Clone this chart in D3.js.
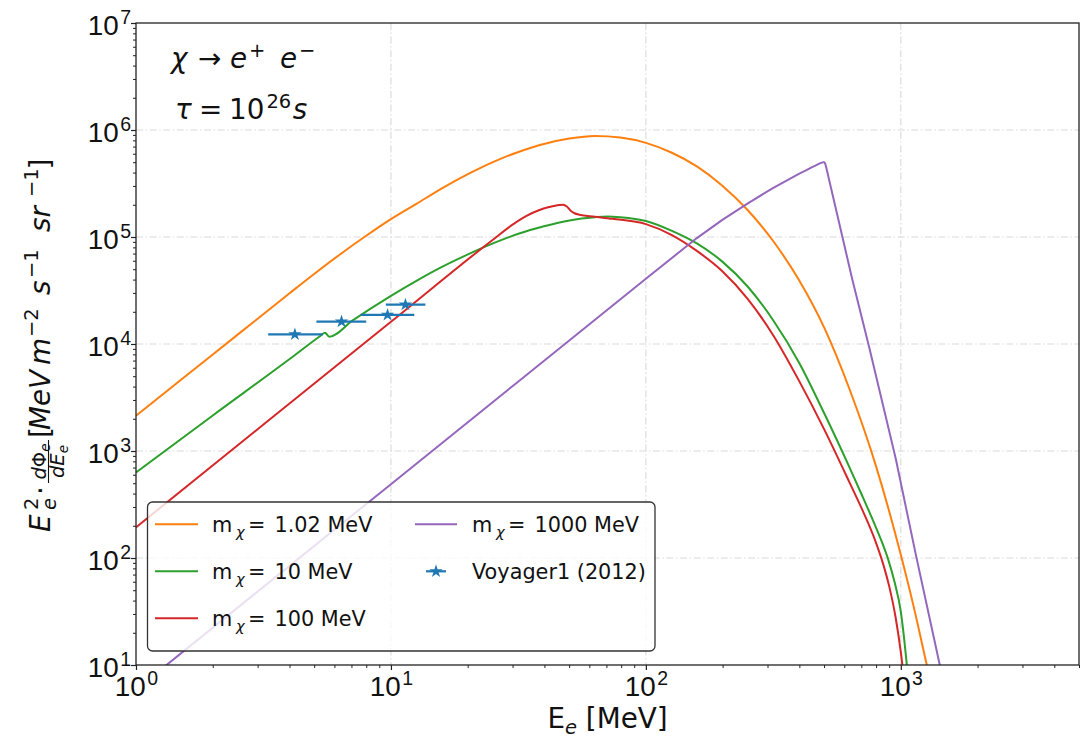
<!DOCTYPE html>
<html><head><meta charset="utf-8">
<script src="https://cdn.jsdelivr.net/npm/d3@7"></script>
<style>
body{margin:0;background:#fff;}
svg{display:block;font-family:"DejaVu Sans",sans-serif;}
text{white-space:pre;fill:#111;}
</style></head><body>
<svg id="chart" width="1081" height="743"></svg>
<script>
// ---------------- data ----------------
const seriesLabels = ["1.02 MeV", "10 MeV", "100 MeV", "1000 MeV"];
const seriesColors = ["#ff7f0e", "#2ca02c", "#d62728", "#9467bd"];

const energy_m1 = [1, 1.585, 2.512, 3.981, 5.012, 6.310, 7.943, 10, 12.59, 15.85, 19.95, 25.12, 31.62, 39.81, 50.12, 63.10, 79.43, 100, 125.9, 158.5, 199.5, 251.2, 316.2, 398.1, 501.2, 631.0, 794.3, 1000, 1122, 1259, 1413];
const flux_m1   = [2138, 5129, 12300, 29510, 45390, 68710, 101600, 146900, 204200, 285100, 384600, 501200, 623700, 741300, 831800, 879000, 851100, 758600, 616600, 457100, 302000, 177800, 91200, 39810, 14130, 3715, 758.6, 107.2, 35.5, 10.5, 3.16];

const energy_m10 = [1, 1.995, 3.981, 5.248, 5.508, 5.728, 7.079, 10, 12.59, 15.85, 19.95, 25.12, 31.62, 39.81, 50.12, 63.10, 70.79, 79.43, 100, 125.9, 158.5, 199.5, 251.2, 316.2, 398.1, 501.2, 631.0, 707.9, 794.3, 841.4, 891.3, 944.1, 1000, 1028, 1052, 1084];
const flux_m10   = [631, 2138, 7161, 11750, 12760, 11700, 16600, 28180, 38900, 52480, 68390, 87100, 107200, 125900, 142900, 153100, 155600, 153100, 141300, 114800, 87100, 58880, 34280, 16600, 6761, 2239, 691.8, 375.8, 199.5, 142.9, 97.7, 60.3, 31.6, 18.6, 11.0, 5.01];

const energy_m100 = [1, 3.162, 10, 25.12, 30.2, 33.88, 38.02, 41.69, 45.71, 47.32, 48.98, 50.70, 52.48, 54.83, 63.10, 73.96, 100, 125.9, 158.5, 199.5, 251.2, 316.2, 398.1, 501.2, 631.0, 707.9, 794.3, 851.1, 901.6, 955.0, 1000, 1035, 1072];
const flux_m100   = [193.6, 1766, 16110, 94410, 131800, 156700, 177800, 190500, 199500, 200400, 192800, 175800, 166700, 161400, 154900, 147900, 131800, 104700, 74130, 47860, 26300, 12020, 4571, 1585, 501.2, 278.6, 144.5, 89.1, 53.7, 27.5, 13.2, 6.61, 3.16];

const energy_m1000 = [1, 3.162, 10, 31.62, 100, 158.5, 199.5, 251.2, 316.2, 398.1, 426.6, 446.7, 462.4, 478.6, 489.8, 498.9, 504.7, 510.5, 645.7, 751.6, 955.0, 1148, 1422, 1585];
const flux_m1000   = [5.89, 53.7, 489.8, 4467, 40740, 97720, 144500, 206500, 288400, 389000, 421700, 446700, 464500, 484200, 495500, 501200, 489800, 441600, 39810, 9333, 851.1, 104.7, 10, 3.02];

const voyagerLabel = "Voyager1 (2012)";
const voyagerE     = [4.2, 6.4, 9.7, 11.4];
const voyagerFlux  = [12300, 16200, 18700, 23300];
const voyagerElow  = [3.3, 5.1, 7.6, 9.55];
const voyagerEhigh = [5.4, 8.0, 12.35, 13.65];

const xTickValues = [1, 10, 100, 1000];
const xTickExp    = ["0", "1", "2", "3"];
const yTickValues = [1e1, 1e2, 1e3, 1e4, 1e5, 1e6, 1e7];
const yTickExp    = ["1", "2", "3", "4", "5", "6", "7"];
const xMinorTicks = [2,3,4,5,6,7,8,9,20,30,40,50,60,70,80,90,200,300,400,500,600,700,800,900,2000,3000,4000,5000];
const yMinorTicks = [20,30,40,50,60,70,80,90,200,300,400,500,600,700,800,900,2e3,3e3,4e3,5e3,6e3,7e3,8e3,9e3,2e4,3e4,4e4,5e4,6e4,7e4,8e4,9e4,2e5,3e5,4e5,5e5,6e5,7e5,8e5,9e5,2e6,3e6,4e6,5e6,6e6,7e6,8e6,9e6];

// ---------------- layout ----------------
const svg = d3.select("#chart");
const L = 136, R = 1079, T = 23, B = 665;
const x = d3.scaleLog().domain([1, 5000]).range([L, R]);
const y = d3.scaleLog().domain([10, 1e7]).range([B, T]);
const FS = 27.8, FSS = 19.5, LFS = 20.8;

// grid
const grid = svg.append("g").attr("stroke", "#d9d9d9").attr("stroke-width", 1.1).attr("stroke-dasharray", "7,2.6,1.4,2.6");
grid.selectAll(".gx").data(xTickValues.slice(1)).join("line")
  .attr("x1", d => x(d)).attr("x2", d => x(d)).attr("y1", T).attr("y2", B);
grid.selectAll(".gy").data(yTickValues.slice(1, -1)).join("line")
  .attr("y1", d => y(d)).attr("y2", d => y(d)).attr("x1", L).attr("x2", R);

// clip
svg.append("clipPath").attr("id", "plotclip").append("rect")
  .attr("x", L).attr("y", T).attr("width", R - L).attr("height", B - T);

// curves
const series = [
  {E: energy_m1, F: flux_m1, curve: d3.curveMonotoneX},
  {E: energy_m10, F: flux_m10, curve: d3.curveMonotoneX},
  {E: energy_m100, F: flux_m100, curve: d3.curveMonotoneX},
  {E: energy_m1000, F: flux_m1000, curve: d3.curveLinear}
];
const curves = svg.append("g").attr("clip-path", "url(#plotclip)");
series.forEach((s, i) => {
  const line = d3.line().x(d => x(d[0])).y(d => y(d[1])).curve(s.curve);
  curves.append("path")
    .attr("d", line(s.E.map((e, k) => [e, s.F[k]])))
    .attr("fill", "none").attr("stroke", seriesColors[i]).attr("stroke-width", 2)
    .attr("stroke-linejoin", "round");
});

// voyager
const vc = "#1f77b4";
const vg = svg.append("g");
vg.selectAll("line").data(voyagerE).join("line")
  .attr("x1", (d, i) => x(voyagerElow[i])).attr("x2", (d, i) => x(voyagerEhigh[i]))
  .attr("y1", (d, i) => y(voyagerFlux[i])).attr("y2", (d, i) => y(voyagerFlux[i]))
  .attr("stroke", vc).attr("stroke-width", 2.2);
const star = d3.symbol().type(d3.symbolStar).size(55);
vg.selectAll("path").data(voyagerE).join("path")
  .attr("d", star)
  .attr("transform", (d, i) => `translate(${x(d)},${y(voyagerFlux[i])})`)
  .attr("fill", vc);

// spines
svg.append("rect").attr("x", L).attr("y", T).attr("width", R - L).attr("height", B - T)
  .attr("fill", "none").attr("stroke", "#222").attr("stroke-width", 1.3);

// axes
const xa = svg.append("g").attr("transform", `translate(0,${B})`).attr("color", "#222")
  .call(d3.axisBottom(x).tickValues(xTickValues).tickSize(5).tickFormat(""));
xa.select(".domain").remove();
xa.selectAll(".tick line").attr("stroke-width", 1.2);
const xam = svg.append("g").attr("transform", `translate(0,${B})`).attr("color", "#222")
  .call(d3.axisBottom(x).tickValues(xMinorTicks).tickSize(3).tickFormat(""));
xam.select(".domain").remove();
xa.selectAll(".tick").each(function(d, i) {
  const t = d3.select(this).append("text").attr("y", 31).attr("text-anchor", "middle")
    .attr("font-size", FS).attr("fill", "#111");
  t.append("tspan").text("10");
  t.append("tspan").attr("font-size", FSS).attr("dy", -11).attr("dx", 1.5).text(xTickExp[i]);
});

const ya = svg.append("g").attr("transform", `translate(${L},0)`).attr("color", "#222")
  .call(d3.axisLeft(y).tickValues(yTickValues).tickSize(5).tickFormat(""));
ya.select(".domain").remove();
ya.selectAll(".tick line").attr("stroke-width", 1.2);
const yam = svg.append("g").attr("transform", `translate(${L},0)`).attr("color", "#222")
  .call(d3.axisLeft(y).tickValues(yMinorTicks).tickSize(3).tickFormat(""));
yam.select(".domain").remove();
ya.selectAll(".tick").each(function(d, i) {
  const t = d3.select(this).append("text").attr("x", -5).attr("y", 11).attr("text-anchor", "end")
    .attr("font-size", FS).attr("fill", "#111");
  t.append("tspan").text("10");
  t.append("tspan").attr("font-size", FSS).attr("dy", -11).attr("dx", 1.5).text(yTickExp[i]);
});

// x label
const xl = svg.append("text").attr("x", (L + R) / 2).attr("y", 728).attr("text-anchor", "middle").attr("font-size", FS);
xl.append("tspan").text("E");
xl.append("tspan").attr("font-size", FSS).attr("font-style", "italic").attr("dy", 6).text("e");
xl.append("tspan").attr("dy", -6).text(" [MeV]");

// y label (rotated group)
const yl = svg.append("g").attr("transform", "translate(50,344) rotate(-90)");
function piece(g, str, u, v, size, italic, anchor) {
  return g.append("text").attr("x", u).attr("y", v).attr("font-size", size)
    .attr("font-style", italic ? "italic" : "normal").attr("text-anchor", anchor || "start").text(str);
}
piece(yl, "E", -188, 0, FS, true);
piece(yl, "e", -166, 6, FSS, true);
piece(yl, "2", -166, -12, FSS, false);
piece(yl, "\u00b7", -151, 0, FS, false);
const num = yl.append("text").attr("x", -117.5).attr("y", -4.5).attr("text-anchor", "middle").attr("font-size", FSS);
num.append("tspan").attr("font-style", "italic").text("d");
num.append("tspan").text("\u03a6");
num.append("tspan").attr("font-style", "italic").attr("font-size", 13.6).attr("dy", 4).text("e");
yl.append("line").attr("x1", -139).attr("x2", -96).attr("y1", -1.5).attr("y2", -1.5).attr("stroke", "#111").attr("stroke-width", 1.1);
const den = yl.append("text").attr("x", -117.5).attr("y", 13.5).attr("text-anchor", "middle").attr("font-size", FSS);
den.append("tspan").attr("font-style", "italic").text("dE");
den.append("tspan").attr("font-style", "italic").attr("font-size", 13.6).attr("dy", 4).text("e");
piece(yl, "[", -94, 0, FS, false);
piece(yl, "MeV", -86, 0, FS, true);
piece(yl, "m", -21, 0, FS, true);
piece(yl, "\u22122", 7, -12, FSS, false);
piece(yl, "s", 49, 0, FS, true);
piece(yl, "\u22121", 66, -12, FSS, false);
piece(yl, "sr", 112, 0, FS, true);
piece(yl, "\u22121", 147, -12, FSS, false);
piece(yl, "]", 174.5, 0, FS, false);

// annotation
const an = svg.append("g");
piece(an, "\u03c7", 171, 68, FS, true);
piece(an, "\u2192", 198, 68, FS, false);
piece(an, "e", 230, 68, FS, true);
piece(an, "+", 249, 57, FSS, false);
piece(an, "e", 280, 68, FS, true);
piece(an, "\u2212", 299, 57, FSS, false);
piece(an, "\u03c4", 175, 119, FS, true);
piece(an, "=", 199, 119, FS, false);
const tl = an.append("text").attr("x", 229).attr("y", 119).attr("font-size", FS);
tl.append("tspan").text("10");
tl.append("tspan").attr("font-size", FSS).attr("dy", -11).attr("dx", 2).text("26");
tl.append("tspan").attr("font-style", "italic").attr("dy", 11).attr("dx", 1.5).text("s");

// legend
const lg = svg.append("g");
lg.append("rect").attr("x", 147.5).attr("y", 502).attr("width", 507.5).attr("height", 149).attr("rx", 5)
  .attr("fill", "#fff").attr("fill-opacity", 0.8).attr("stroke", "#333").attr("stroke-width", 1.3);
const colX = [[155, 198, 212], [415, 457, 472]];
const rowY = [532, 579, 626];
function massEntry(col, row, i) {
  const [h0, h1, tx] = colX[col];
  const by = rowY[row];
  lg.append("line").attr("x1", h0).attr("x2", h1).attr("y1", by - 7.7).attr("y2", by - 7.7)
    .attr("stroke", seriesColors[i]).attr("stroke-width", 2);
  const t = lg.append("text").attr("y", by).attr("font-size", LFS);
  t.append("tspan").attr("x", tx).text("m");
  t.append("tspan").attr("x", tx + 24).attr("dy", 5).attr("font-size", 14.6).attr("font-style", "italic").text("\u03c7");
  t.append("tspan").attr("x", tx + 36).attr("dy", -5).text("=");
  t.append("tspan").attr("x", tx + 62.5).text(seriesLabels[i]);
}
massEntry(0, 0, 0);
massEntry(0, 1, 1);
massEntry(0, 2, 2);
massEntry(1, 0, 3);
{
  const by = rowY[1];
  lg.append("line").attr("x1", 426).attr("x2", 446).attr("y1", by - 7.7).attr("y2", by - 7.7)
    .attr("stroke", vc).attr("stroke-width", 2.2);
  lg.append("path").attr("d", star).attr("transform", `translate(436,${by - 7.7})`).attr("fill", vc);
  lg.append("text").attr("x", 472).attr("y", by).attr("font-size", LFS).text(voyagerLabel);
}
</script>
</body></html>
